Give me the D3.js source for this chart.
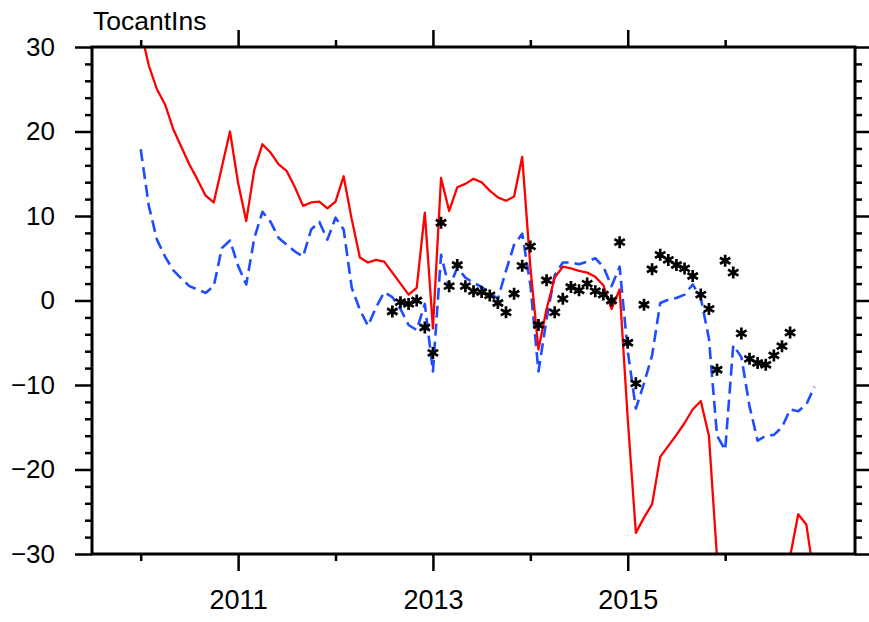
<!DOCTYPE html>
<html>
<head>
<meta charset="utf-8">
<script src="https://cdn.jsdelivr.net/npm/d3@7"></script>
<style>
  body { margin: 0; background: #fff; }
  svg { display: block; }
</style>
</head>
<body>
<svg id="chart" width="869" height="622"></svg>
<script>
// ---- data ----
const title = "TocantIns";
const startYear = 2010;
const monthCount = 84;                       // Jan 2010 .. Dec 2016
const xMajorTicks = [2011, 2013, 2015];
const xMinorTicks = [2010, 2012, 2014, 2016];
const yMajorTicks = [-30, -20, -10, 0, 10, 20, 30];
const yMinorTicks = d3.range(-30, 31, 2).filter(v => v % 10 !== 0);

// model 1 (solid red), one value per month
const redSeries = [
  32.0, 27.8, 25.0, 23.2, 20.3, 18.2, 16.1, 14.3, 12.4, 11.6, 15.8, 20.0,
  13.9,  9.4, 15.5, 18.5, 17.5, 16.1, 15.3, 13.4, 11.2, 11.6, 11.7, 10.9,
  11.7, 14.7,  9.6,  5.1,  4.5,  4.8,  4.6,  3.3,  2.0,  0.7,  1.5, 10.4,
  -3.3, 14.5, 10.6, 13.4, 13.8, 14.4, 14.0, 13.0, 12.2, 11.8, 12.3, 17.0,
   4.0, -5.8, -1.0,  2.7,  4.0,  3.8,  3.5,  3.3,  2.8,  1.8, -1.0,  1.3,
 -14.0, -27.5, -25.7, -24.1, -18.5, -17.2, -15.9, -14.5, -12.9, -11.9, -16.0, -30.5,
  null, null, null, null, null, null, null, null, -30.3, -25.3, -26.5, -33.0
];

// model 2 (dashed blue), one value per month
const blueSeries = [
  17.9, 11.2,  7.2,  5.2,  3.6,  2.6,  1.7,  1.3,  0.9,  1.7,  6.2,  7.1,
   4.1,  1.9,  7.4, 10.5,  9.3,  7.4,  6.6,  5.8,  5.2,  8.4,  9.3,  7.2,
   9.8,  8.4,  1.5, -1.1, -3.0, -0.8,  1.0,  0.4, -1.0, -2.9, -3.5, -0.4,
  -8.4,  5.4,  1.5,  3.9,  2.7,  2.1,  1.6,  0.9,  0.2,  3.5,  6.6,  7.9,
   1.9, -8.4, -2.2,  3.0,  4.5,  4.5,  4.3,  4.6,  5.0,  4.0,  1.7,  4.0,
  -6.0, -12.8, -9.8, -6.5, -0.3,  0.1,  0.3,  0.7,  1.9,  0.3, -4.5, -16.0,
 -17.7, -5.3, -6.7, -12.5, -16.6, -16.0, -15.9, -15.0, -12.9, -13.1, -12.3, -10.2
];

// observations (asterisks), one value per month, null where missing
const obsSeries = [
  null, null, null, null, null, null, null, null, null, null, null, null,
  null, null, null, null, null, null, null, null, null, null, null, null,
  null, null, null, null, null, null, null, -1.3, -0.2, -0.4,  0.0, -3.2,
  -6.2,  9.2,  1.7,  4.2,  1.7,  1.1,  1.0,  0.6, -0.3, -1.4,  0.8,  4.1,
   6.4, -2.9,  2.4, -1.4,  0.2,  1.6,  1.2,  2.0,  1.1,  0.7,  0.0,  6.9,
  -5.0, -9.8, -0.5,  3.7,  5.4,  4.8,  4.2,  3.8,  2.9,  0.7, -1.0, -8.2,
   4.7,  3.3, -3.9, -6.9, -7.4, -7.6, -6.5, -5.4, -3.8, null, null, null
];

const months = d3.range(monthCount).map(i => startYear + i / 12);

// ---- layout ----
const svg = d3.select("#chart");
const plot = { left: 92, right: 855, top: 47, bottom: 554 };
const font = "'Liberation Sans', Arial, Helvetica, sans-serif";

const x = d3.scaleLinear().domain([2009.5, 2017.333]).range([plot.left, plot.right]);
const y = d3.scaleLinear().domain([-30, 30]).range([plot.bottom, plot.top]);

svg.append("defs").append("clipPath").attr("id", "plotClip")
  .append("rect")
  .attr("x", plot.left).attr("y", plot.top)
  .attr("width", plot.right - plot.left).attr("height", plot.bottom - plot.top);

const layer = svg.append("g").attr("clip-path", "url(#plotClip)");

function lineFor(values) {
  return d3.line()
    .defined((d, i) => values[i] !== null)
    .x((d, i) => x(months[i]))
    .y((d, i) => y(values[i]))(values);
}

layer.append("path")
  .attr("d", lineFor(blueSeries))
  .attr("fill", "none")
  .attr("stroke", "#1f4cff")
  .attr("stroke-width", 2.6)
  .attr("stroke-dasharray", "12,6")
  .attr("stroke-linejoin", "round");

layer.append("path")
  .attr("d", lineFor(redSeries))
  .attr("fill", "none")
  .attr("stroke", "#ff0000")
  .attr("stroke-width", 2.3)
  .attr("stroke-linejoin", "round");

// six-armed asterisk marker
const r = 6;
const asterisk = [0, 60, 120].map(a => {
  const t = a * Math.PI / 180;
  const dx = r * Math.sin(t), dy = r * Math.cos(t);
  return `M${-dx},${-dy}L${dx},${dy}`;
}).join("");

layer.selectAll("path.obs")
  .data(obsSeries.map((v, i) => ({ t: months[i], v })).filter(d => d.v !== null))
  .join("path")
  .attr("class", "obs")
  .attr("transform", d => `translate(${x(d.t)},${y(d.v)})`)
  .attr("d", asterisk)
  .attr("fill", "none")
  .attr("stroke", "#000")
  .attr("stroke-width", 2.7);

// ---- axes ----
const major = 17, minor = 7;

function xAxis(yPos, dir, labels) {
  const g = svg.append("g").attr("transform", `translate(0,${yPos})`);
  const ax = (dir > 0 ? d3.axisBottom(x) : d3.axisTop(x));
  g.call(ax.tickValues(xMinorTicks).tickSize(minor).tickFormat(""));
  const gm = svg.append("g").attr("transform", `translate(0,${yPos})`);
  const axm = (dir > 0 ? d3.axisBottom(x) : d3.axisTop(x));
  gm.call(axm.tickValues(xMajorTicks).tickSize(major).tickPadding(19)
    .tickFormat(labels ? d3.format("d") : ""));
  [g, gm].forEach(s => {
    s.select(".domain").remove();
    s.selectAll(".tick line").attr("stroke", "#000").attr("stroke-width", 2.5);
  });
  gm.selectAll(".tick text").attr("font-family", font).attr("font-size", 27).attr("fill", "#000");
}

function yAxis(xPos, dir, labels) {
  const g = svg.append("g").attr("transform", `translate(${xPos},0)`);
  const ax = (dir < 0 ? d3.axisLeft(y) : d3.axisRight(y));
  g.call(ax.tickValues(yMinorTicks).tickSize(minor).tickFormat(""));
  const gm = svg.append("g").attr("transform", `translate(${xPos},0)`);
  const axm = (dir < 0 ? d3.axisLeft(y) : d3.axisRight(y));
  gm.call(axm.tickValues(yMajorTicks).tickSize(major).tickPadding(20)
    .tickFormat(labels ? d3.format("d") : ""));
  [g, gm].forEach(s => {
    s.select(".domain").remove();
    s.selectAll(".tick line").attr("stroke", "#000").attr("stroke-width", 2.5);
  });
  gm.selectAll(".tick text").attr("font-family", font).attr("font-size", 26).attr("fill", "#000");
}

xAxis(plot.bottom, 1, true);
xAxis(plot.top, -1, false);
yAxis(plot.left, -1, true);
yAxis(plot.right, 1, false);

// frame
svg.append("rect")
  .attr("x", plot.left).attr("y", plot.top)
  .attr("width", plot.right - plot.left).attr("height", plot.bottom - plot.top)
  .attr("fill", "none").attr("stroke", "#000").attr("stroke-width", 3);

// title
svg.append("text")
  .attr("x", plot.left + 1).attr("y", 30)
  .attr("font-family", font).attr("font-size", 26.5)
  .attr("fill", "#000")
  .text(title);
</script>
</body>
</html>
